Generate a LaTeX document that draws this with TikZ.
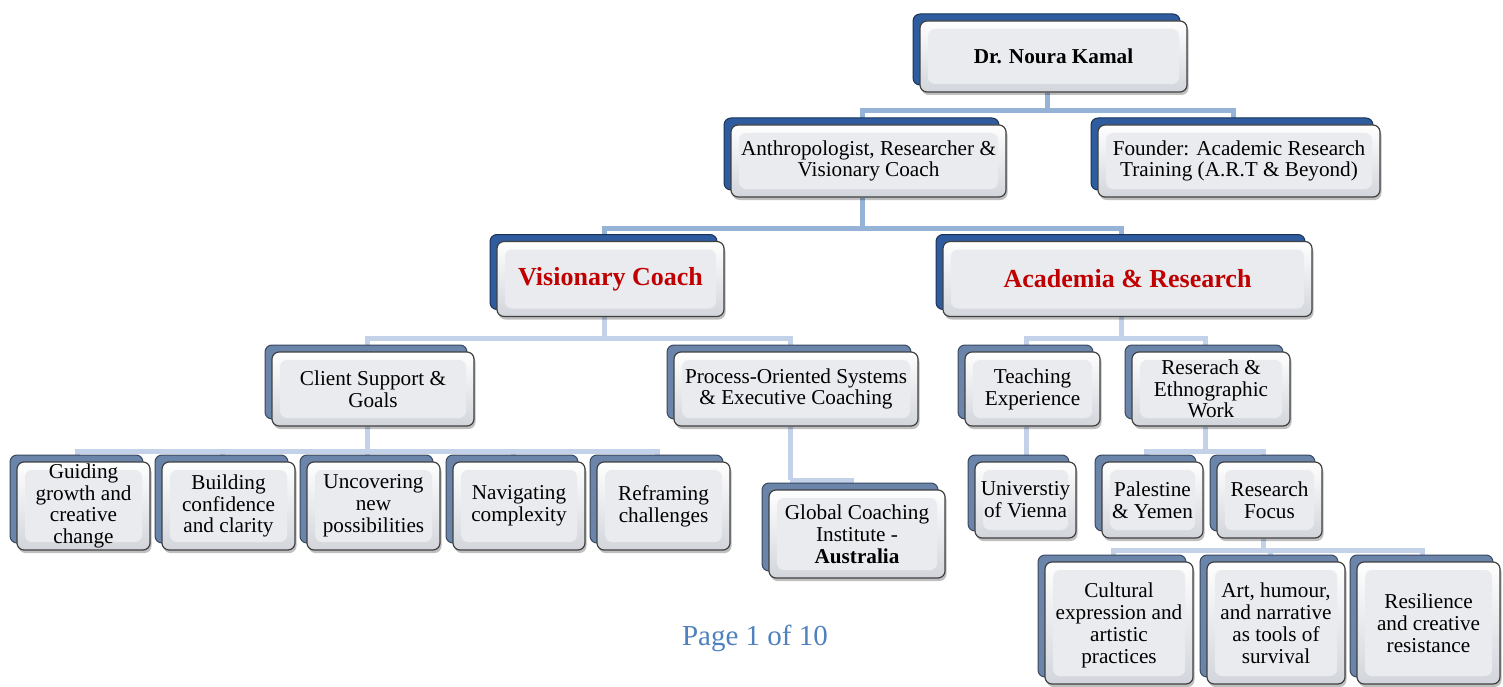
\documentclass[tikz,border=0pt]{standalone}
\usepackage{fontspec}
\setmainfont{Liberation Serif}
\usetikzlibrary{shadows,backgrounds,calc}
\definecolor{backtop}{HTML}{2E5C9E}
\definecolor{backlow}{HTML}{6A84AA}
\definecolor{conntop}{HTML}{95B3D7}
\definecolor{connlow}{HTML}{C3D2E8}
\definecolor{facein}{HTML}{E9EBEF}
\definecolor{faceedge}{HTML}{D2D5DB}
\definecolor{titlered}{HTML}{C00000}
\definecolor{pageblue}{HTML}{4F81BD}
\newcommand\fsnorm{\fontsize{21.2}{21.8}\selectfont}
\newcommand\fsbig{\fontsize{26}{28}\selectfont\bfseries\color{titlered}}
\tikzset{
  cardbox/.style={draw=black!75, line width=1.2pt, rounded corners=7pt,
    top color=white, bottom color=faceedge, align=center, inner sep=0pt,
    font=\fsnorm, text=black,
    drop shadow={shadow xshift=1.5pt, shadow yshift=-3pt, opacity=.25, fill=black},
    general shadow={shadow xshift=-7pt, shadow yshift=7pt, fill=#1, draw=#1!55!black, line width=1pt},
    path picture={\fill[facein] ([shift={(8pt,-8pt)}]path picture bounding box.north west)
      rectangle ([shift={(-8pt,8pt)}]path picture bounding box.south east);}},
  cardbox/.default=backlow,
  conn/.style={draw=#1, line width=5pt},
  conn/.default=connlow
}
\newcommand\treeconn[4]{% parent, bar coordinate, colour, children
  \draw[conn=#3] ([xshift=-6pt]#1.south) -- ([xshift=-6pt]#1.south |- #2);
  \foreach \c in {#4} {\draw[conn=#3] ([xshift=-6pt]#1.south |- #2) -| ([xshift=-6pt]\c.north);}
}
\begin{document}
\begin{tikzpicture}[x=1pt,y=-1pt]
\useasboundingbox (0,0) rectangle (1503,687);

% level 0
\node[cardbox=backtop, minimum width=267pt, minimum height=71pt] (noura) at (1053.5,56.5) {\textbf{Dr. Noura Kamal}};
% level 1
\node[cardbox=backtop, minimum width=275pt, minimum height=72pt] (anth) at (868.5,161) {Anthropologist, Researcher \&\\Visionary Coach};
\node[cardbox=backtop, minimum width=282pt, minimum height=72pt] (founder) at (1239,161) {Founder: Academic Research\\Training (A.R.T \& Beyond)};
% level 2
\node[cardbox=backtop, minimum width=227pt, minimum height=75pt] (vis) at (610.5,279) {\fsbig Visionary Coach};
\node[cardbox=backtop, minimum width=369pt, minimum height=75pt] (acad) at (1127.5,279) {\fsbig Academia \& Research};
% level 3
\node[cardbox, minimum width=202pt, minimum height=74pt] (client) at (373,389) {Client Support \&\\Goals};
\node[cardbox, minimum width=244pt, minimum height=74pt] (process) at (796,389) {Process-Oriented Systems\\\& Executive Coaching};
\node[cardbox, minimum width=135pt, minimum height=74pt] (teaching) at (1032.5,389) {Teaching\\Experience};
\node[cardbox, minimum width=158pt, minimum height=74pt] (reserach) at (1211,389) {Reserach \&\\Ethnographic\\Work};
% level 4
\node[cardbox, minimum width=133pt, minimum height=88pt] (guiding) at (83.5,506) {Guiding\\growth and\\creative\\change};
\node[cardbox, minimum width=133pt, minimum height=88pt] (building) at (228.5,506) {Building\\confidence\\and clarity};
\node[cardbox, minimum width=133pt, minimum height=88pt] (uncovering) at (373.5,506) {Uncovering\\new\\possibilities};
\node[cardbox, minimum width=132pt, minimum height=88pt] (navigating) at (519,506) {Navigating\\complexity};
\node[cardbox, minimum width=133pt, minimum height=88pt] (reframing) at (663.5,506) {Reframing\\challenges};
\node[cardbox, minimum width=176pt, minimum height=88pt] (global) at (857,534) {Global Coaching\\Institute -\\\textbf{Australia}};
\node[cardbox, minimum width=101pt, minimum height=76pt] (univ) at (1025.5,500) {Universtiy\\of Vienna};
\node[cardbox, minimum width=101pt, minimum height=76pt] (palestine) at (1152.5,500) {Palestine\\\& Yemen};
\node[cardbox, minimum width=105pt, minimum height=76pt] (rfocus) at (1269.5,500) {Research\\Focus};
% level 5
\node[cardbox, minimum width=148pt, minimum height=122pt, text depth=-10pt] (cultural) at (1119,623) {Cultural\\expression and\\artistic\\practices};
\node[cardbox, minimum width=138pt, minimum height=122pt, text depth=-10pt] (art) at (1276,623) {Art, humour,\\and narrative\\as tools of\\survival};
\node[cardbox, minimum width=143pt, minimum height=122pt, text depth=-10pt] (resil) at (1428.5,623) {Resilience\\and creative\\resistance};

% page footer
\node[font=\fontsize{29}{32}\selectfont, text=pageblue] (page) at (755,638) {Page 1 of 10};

% bar levels
\coordinate (b1) at (0,111);
\coordinate (b2) at (0,228);
\coordinate (b3) at (0,338);
\coordinate (b5) at (0,451);
\coordinate (b6) at (0,480);
\coordinate (b9) at (0,550);

\begin{pgfonlayer}{background}
\fill[white] (0,0) rectangle (1503,687);
\treeconn{noura}{b1}{conntop}{anth,founder}
\treeconn{anth}{b2}{conntop}{vis,acad}
\treeconn{vis}{b3}{connlow}{client,process}
\treeconn{acad}{b3}{connlow}{teaching,reserach}
\treeconn{client}{b5}{connlow}{guiding,building,uncovering,navigating,reframing}
\treeconn{process}{b6}{connlow}{global}
\draw[conn] ([xshift=-6pt]teaching.south) -- ([xshift=-6pt]teaching.south |- univ.north);
\treeconn{reserach}{b5}{connlow}{palestine,rfocus}
\treeconn{rfocus}{b9}{connlow}{cultural,art,resil}
\end{pgfonlayer}
\end{tikzpicture}
\end{document}
